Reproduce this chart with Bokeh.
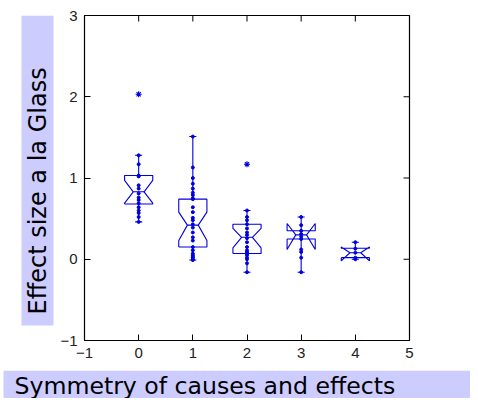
import math
from bokeh.plotting import figure
from bokeh.models import LinearAxis, FixedTicker, Range1d
from bokeh.layouts import column, row
from bokeh.core.properties import value
from bokeh.embed import file_html
from bokeh.resources import INLINE

# ---- data ----
groups = [0, 1, 2, 3, 4]
whisk_lo = [0.46, -0.01, -0.16, -0.16, 0.00]
q1 = [0.68, 0.15, 0.07, 0.25, 0.02]
median = [0.83, 0.42, 0.27, 0.30, 0.08]
q3 = [1.03, 0.74, 0.43, 0.35, 0.135]
whisk_hi = [1.28, 1.51, 0.60, 0.52, 0.21]
notch_lo = [0.69, 0.23, 0.14, 0.12, -0.02]
notch_hi = [0.97, 0.58, 0.38, 0.44, 0.15]
outlier_x = [0, 2]
outlier_y = [2.03, 1.17]
points = {
    0: [1.28, 1.17, 1.03, 1.02, 0.91, 0.87, 0.81, 0.76, 0.73, 0.69, 0.64, 0.60, 0.57, 0.52, 0.46],
    1: [1.51, 1.13, 1.00, 0.93, 0.87, 0.82, 0.79, 0.75, 0.74, 0.64, 0.58, 0.51, 0.48, 0.43, 0.39,
        0.33, 0.27, 0.23, 0.15, 0.11, 0.07, 0.05, 0.03, 0.02, 0.00, -0.01],
    2: [0.60, 0.52, 0.48, 0.43, 0.38, 0.33, 0.30, 0.26, 0.21, 0.15, 0.11, 0.09, 0.07, 0.05,
        0.02, 0.00, -0.05, -0.16],
    3: [0.52, 0.42, 0.35, 0.31, 0.28, 0.25, 0.12, 0.09, 0.02, -0.16],
    4: [0.21, 0.13, 0.08, 0.02, 0.00],
}
x_ticks = [-1, 0, 1, 2, 3, 4, 5]
y_ticks = [-1, 0, 1, 2, 3]
x_label = "Symmetry of causes and effects"
y_label = "Effect size a la Glass"

BLUE = "#0000dd"
LABEL_BG = "#ccccff"
LABEL_FONT = "DejaVu Sans"
HW = 0.26     # half box width
WN = 0.10     # half waist width
CAP = 0.065   # half cap width
TICK_X = 0.11  # tick length (x data units)
TICK_Y = 0.074  # tick length (y data units)

TOTAL_W, TOTAL_H = 470, 398
LEFT_W = 56
TOP_H = 370
FRAME_TOP, FRAME_BOTTOM = 15, 340

# ---- main plot ----
p = figure(width=TOTAL_W - LEFT_W, height=TOP_H, output_backend="svg", toolbar_location=None,
           x_range=Range1d(-1, 5), y_range=Range1d(-1, 3),
           x_axis_location=None, y_axis_location=None,
           min_border_left=28, min_border_right=61, min_border_top=FRAME_TOP,
           min_border_bottom=TOP_H - FRAME_BOTTOM)
p.xgrid.visible = False
p.ygrid.visible = False
p.outline_line_color = "black"
p.outline_line_width = 1.2

def make_axis(ticks):
    ax = LinearAxis(ticker=FixedTicker(ticks=ticks))
    ax.major_tick_in = 6
    ax.major_tick_out = 0
    ax.minor_tick_line_color = None
    ax.axis_line_color = "black"
    ax.major_tick_line_color = "black"
    ax.major_label_text_font = "Liberation Sans"
    ax.major_label_text_font_size = "15px"
    ax.major_label_text_color = "#222222"
    ax.major_label_standoff = 7
    return ax

p.add_layout(make_axis(x_ticks), "below")
p.add_layout(make_axis(y_ticks), "left")

# inward ticks on top and right edges
inner_x = x_ticks[1:-1]
inner_y = y_ticks[1:-1]
p.segment(x0=inner_x, y0=[y_ticks[-1]] * len(inner_x), x1=inner_x,
          y1=[y_ticks[-1] - TICK_Y] * len(inner_x), line_color="black", line_width=1)
p.segment(x0=[x_ticks[-1]] * len(inner_y), y0=inner_y, x1=[x_ticks[-1] - TICK_X] * len(inner_y),
          y1=inner_y, line_color="black", line_width=1)

# ---- notched boxes ----
xs, ys = [], []
for i, g in enumerate(groups):
    L, R = g - HW, g + HW
    xs.append([L, L, g - WN, L, L, R, R, g + WN, R, R, L])
    ys.append([q1[i], notch_lo[i], median[i], notch_hi[i], q3[i], q3[i], notch_hi[i],
               median[i], notch_lo[i], q1[i], q1[i]])
    xs.append([g - WN, g + WN]); ys.append([median[i], median[i]])
    xs.append([g, g]); ys.append([q3[i], whisk_hi[i]])
    xs.append([g, g]); ys.append([q1[i], whisk_lo[i]])
    xs.append([g - CAP, g + CAP]); ys.append([whisk_hi[i], whisk_hi[i]])
    xs.append([g - CAP, g + CAP]); ys.append([whisk_lo[i], whisk_lo[i]])
p.multi_line(xs, ys, line_color=BLUE, line_width=1.1)

px, py = [], []
for g in groups:
    for v in points[g]:
        px.append(g); py.append(v)
p.scatter(px, py, size=3, marker="circle", fill_color=BLUE, line_color=BLUE)
p.scatter(outlier_x, outlier_y, marker="asterisk", size=6, line_color=BLUE, line_width=1.1)

# ---- y label panel (frame is aligned with the main plot's frame) ----
pl = figure(width=LEFT_W, height=TOP_H, output_backend="svg", toolbar_location=None,
            x_range=Range1d(0, LEFT_W), y_range=Range1d(FRAME_BOTTOM, FRAME_TOP),
            x_axis_location=None, y_axis_location=None,
            min_border_left=0, min_border_right=0, min_border_top=FRAME_TOP,
            min_border_bottom=TOP_H - FRAME_BOTTOM)
pl.xgrid.visible = False
pl.ygrid.visible = False
pl.outline_line_color = None
pl.quad(left=[21], right=[53], top=[15], bottom=[325], fill_color=LABEL_BG, line_color=None)
pl.text(x=[37], y=[314], text=[y_label], angle=math.pi / 2, text_align="left",
        text_baseline="middle", text_font=value(LABEL_FONT), text_font_size="24px",
        text_color="black")

# ---- x label panel ----
pb = figure(width=TOTAL_W, height=TOTAL_H - TOP_H, output_backend="svg", toolbar_location=None,
            x_range=Range1d(0, TOTAL_W), y_range=Range1d(TOTAL_H - TOP_H, 0),
            x_axis_location=None, y_axis_location=None,
            min_border_left=0, min_border_right=0, min_border_top=0, min_border_bottom=0)
pb.xgrid.visible = False
pb.ygrid.visible = False
pb.outline_line_color = None
pb.quad(left=[3], right=[TOTAL_W], top=[0], bottom=[TOTAL_H - TOP_H], fill_color=LABEL_BG,
        line_color=None)
pb.text(x=[14], y=[15], text=[x_label], text_align="left", text_baseline="middle",
        text_font=value(LABEL_FONT), text_font_size="23.6px", text_color="black")

layout = column(row(pl, p, spacing=0), pb, spacing=0)
open("out.html", "w").write(file_html(layout, INLINE))
